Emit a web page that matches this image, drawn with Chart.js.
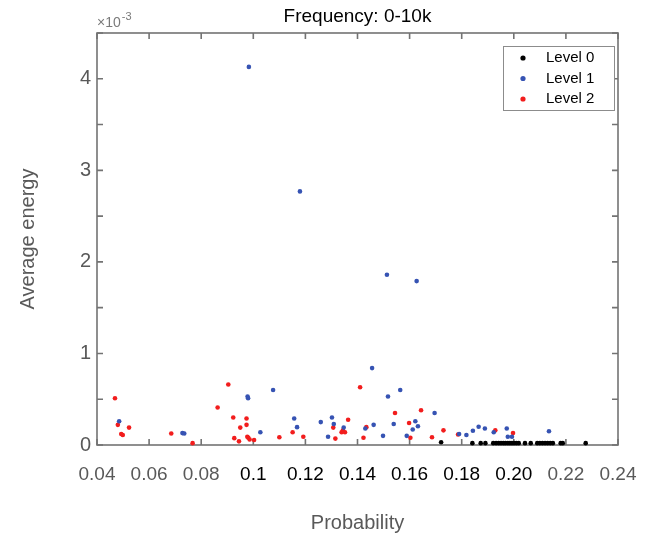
<!DOCTYPE html>
<html>
<head>
<meta charset="utf-8">
<script src="https://cdn.jsdelivr.net/npm/chart.js@4"></script>
<style>
  html, body { margin: 0; padding: 0; background: #fff; }
  #wrap { width: 647px; height: 542px; }
</style>
</head>
<body>
<div id="wrap"><canvas id="chart" width="647" height="542"></canvas></div>
<script>
// Values (y in units of 10^-3)
const level0X = [0.1721, 0.1841, 0.1873, 0.1891, 0.1921, 0.1932, 0.1942, 0.1951, 0.1960, 0.1968,
                 0.1977, 0.1985, 0.1993, 0.2001, 0.2010, 0.2019, 0.2043, 0.2065, 0.2090, 0.2100,
                 0.2110, 0.2120, 0.2130, 0.2140, 0.2150, 0.2180, 0.2188, 0.2276];
const level0Y = [0.03, 0.02, 0.02, 0.02, 0.02, 0.02, 0.02, 0.02, 0.02, 0.02,
                 0.02, 0.02, 0.02, 0.02, 0.02, 0.02, 0.02, 0.02, 0.02, 0.02,
                 0.02, 0.02, 0.02, 0.02, 0.02, 0.02, 0.02, 0.02];

const level1X = [0.0983, 0.1179, 0.1513, 0.1627, 0.0485, 0.0728, 0.0735, 0.0978, 0.0980, 0.1027,
                 0.1076, 0.1157, 0.1168, 0.1259, 0.1302, 0.1309, 0.1287, 0.1347, 0.1456, 0.1430,
                 0.1462, 0.1498, 0.1517, 0.1564, 0.1539, 0.1589, 0.1622, 0.1632, 0.1612, 0.1696,
                 0.1790, 0.1818, 0.1843, 0.1865, 0.1889, 0.1923, 0.1973, 0.1977, 0.1993, 0.2135];
const level1Y = [4.13, 2.77, 1.86, 1.79, 0.26, 0.13, 0.125, 0.53, 0.51, 0.14,
                 0.60, 0.29, 0.195, 0.25, 0.30, 0.23, 0.09, 0.19, 0.84, 0.18,
                 0.22, 0.10, 0.53, 0.60, 0.23, 0.10, 0.26, 0.205, 0.17, 0.35,
                 0.12, 0.11, 0.155, 0.20, 0.18, 0.14, 0.18, 0.09, 0.09, 0.15];

const level2X = [0.0469, 0.0480, 0.0493, 0.0499, 0.0523, 0.0685, 0.0767, 0.0904, 0.0863, 0.0923,
                 0.0974, 0.0974, 0.0950, 0.0927, 0.0945, 0.0977, 0.0981, 0.0986, 0.1003, 0.1100,
                 0.1151, 0.1192, 0.1307, 0.1315, 0.1339, 0.1344, 0.1352, 0.1364, 0.1410, 0.1423,
                 0.1434, 0.1544, 0.1603, 0.1598, 0.1644, 0.1686, 0.1730, 0.1786, 0.1929, 0.1997];
const level2Y = [0.51, 0.22, 0.12, 0.11, 0.19, 0.125, 0.02, 0.66, 0.41, 0.30,
                 0.29, 0.22, 0.19, 0.075, 0.04, 0.09, 0.08, 0.06, 0.055, 0.085,
                 0.14, 0.09, 0.19, 0.07, 0.14, 0.16, 0.14, 0.275, 0.63, 0.08,
                 0.195, 0.35, 0.08, 0.24, 0.38, 0.085, 0.16, 0.115, 0.16, 0.13];

const xTickLabels = ['0.04', '0.06', '0.08', '0.1', '0.12', '0.14', '0.16', '0.18', '0.20', '0.22', '0.24'];
const darkTicks = ['0.1', '0.12', '0.14', '0.16', '0.18', '0.20'];

const seriesNames = ['Level 0', 'Level 1', 'Level 2'];
const seriesColors = ['#000000', '#3653b3', '#f21d1d'];

const FONT = 'Arial, "Liberation Sans", Helvetica, sans-serif';
const GRAY = '#595959';

function toPoints(xs, ys) {
    return xs.map((x, i) => ({ x: x, y: ys[i] }));
}

// Frame with inward ticks on all four sides, title, exponent and legend
const matlabFrame = {
    id: 'matlabFrame',
    beforeDatasetsDraw(chart) {
        const ctx = chart.ctx;
        const a = chart.chartArea;
        const xs = chart.scales.x, ys = chart.scales.y;
        ctx.save();
        ctx.strokeStyle = '#737373';
        ctx.lineWidth = 1.6;
        ctx.strokeRect(a.left, a.top, a.right - a.left, a.bottom - a.top);
        const len = 6;
        xs.ticks.forEach(t => {
            const px = xs.getPixelForValue(t.value);
            ctx.beginPath();
            ctx.moveTo(px, a.bottom); ctx.lineTo(px, a.bottom - len);
            ctx.moveTo(px, a.top); ctx.lineTo(px, a.top + len);
            ctx.stroke();
        });
        ys.ticks.forEach(t => {
            const py = ys.getPixelForValue(t.value);
            ctx.beginPath();
            ctx.moveTo(a.left, py); ctx.lineTo(a.left + len, py);
            ctx.moveTo(a.right, py); ctx.lineTo(a.right - len, py);
            ctx.stroke();
        });
        ctx.restore();
    },
    afterDraw(chart) {
        const ctx = chart.ctx;
        const a = chart.chartArea;
        ctx.save();
        // title
        ctx.fillStyle = '#000';
        ctx.font = '19px ' + FONT;
        ctx.textAlign = 'center';
        ctx.textBaseline = 'middle';
        ctx.fillText('Frequency: 0-10k', (a.left + a.right) / 2, 17);

        // exponent label
        ctx.fillStyle = '#7a7a7a';
        ctx.textAlign = 'left';
        ctx.textBaseline = 'alphabetic';
        ctx.font = '14px ' + FONT;
        ctx.fillText('\u00d710', a.left, a.top - 6);
        const w = ctx.measureText('\u00d710').width;
        ctx.font = '11px ' + FONT;
        ctx.fillText('-3', a.left + w + 1, a.top - 13);

        // legend
        const lx = 503, ly = 46, lw = 111, lh = 64;
        ctx.fillStyle = '#fff';
        ctx.fillRect(lx, ly, lw, lh);
        ctx.strokeStyle = '#8c8c8c';
        ctx.lineWidth = 1;
        ctx.strokeRect(lx + 0.5, ly + 0.5, lw, lh);
        ctx.font = '15px ' + FONT;
        ctx.textBaseline = 'middle';
        seriesNames.forEach((name, i) => {
            const y = ly + 12 + i * 20.5;
            ctx.fillStyle = seriesColors[i];
            ctx.beginPath();
            ctx.arc(lx + 20, y, 2.6, 0, Math.PI * 2);
            ctx.fill();
            ctx.fillStyle = '#000';
            ctx.fillText(name, lx + 43, y);
        });
        ctx.restore();
    }
};

const chart = new Chart(document.getElementById('chart'), {
    type: 'scatter',
    data: {
        datasets: [
            { label: seriesNames[0], data: toPoints(level0X, level0Y), backgroundColor: seriesColors[0] },
            { label: seriesNames[1], data: toPoints(level1X, level1Y), backgroundColor: seriesColors[1] },
            { label: seriesNames[2], data: toPoints(level2X, level2Y), backgroundColor: seriesColors[2] }
        ].map(d => Object.assign(d, { pointRadius: 2.3, pointBorderWidth: 0, borderWidth: 0, clip: false }))
    },
    options: {
        responsive: false,
        animation: false,
        layout: { padding: { top: 33, right: 29, left: 0, bottom: 0 } },
        plugins: {
            legend: { display: false },
            title: { display: false },
            tooltip: { enabled: false }
        },
        scales: {
            x: {
                type: 'linear',
                min: 0.04,
                max: 0.24,
                grid: { display: false, drawTicks: false },
                border: { display: false },
                afterFit: s => { s.height = 97; s.paddingLeft = 0; s.paddingRight = 0; },
                ticks: {
                    stepSize: 0.02,
                    autoSkip: false,
                    maxRotation: 0,
                    padding: 18,
                    font: { family: FONT, size: 19 },
                    color: ctx => darkTicks.includes(xTickLabels[ctx.index]) ? '#000' : GRAY,
                    callback: (v, i) => xTickLabels[i]
                },
                title: {
                    display: true,
                    text: 'Probability',
                    color: GRAY,
                    font: { family: FONT, size: 20 },
                    padding: { top: 7, bottom: 7 }
                }
            },
            y: {
                type: 'linear',
                min: 0,
                max: 4.5,
                grid: { display: false, drawTicks: false },
                border: { display: false },
                afterFit: s => { s.width = 97; s.paddingTop = 0; s.paddingBottom = 0; },
                ticks: {
                    stepSize: 0.5,
                    autoSkip: false,
                    padding: 6,
                    font: { family: FONT, size: 20 },
                    color: GRAY,
                    callback: v => Number.isInteger(v) ? String(v) : ''
                },
                title: {
                    display: true,
                    text: 'Average energy',
                    color: GRAY,
                    font: { family: FONT, size: 20 },
                    padding: { top: 16, bottom: 16 }
                }
            }
        }
    },
    plugins: [matlabFrame]
});
</script>
</body>
</html>
